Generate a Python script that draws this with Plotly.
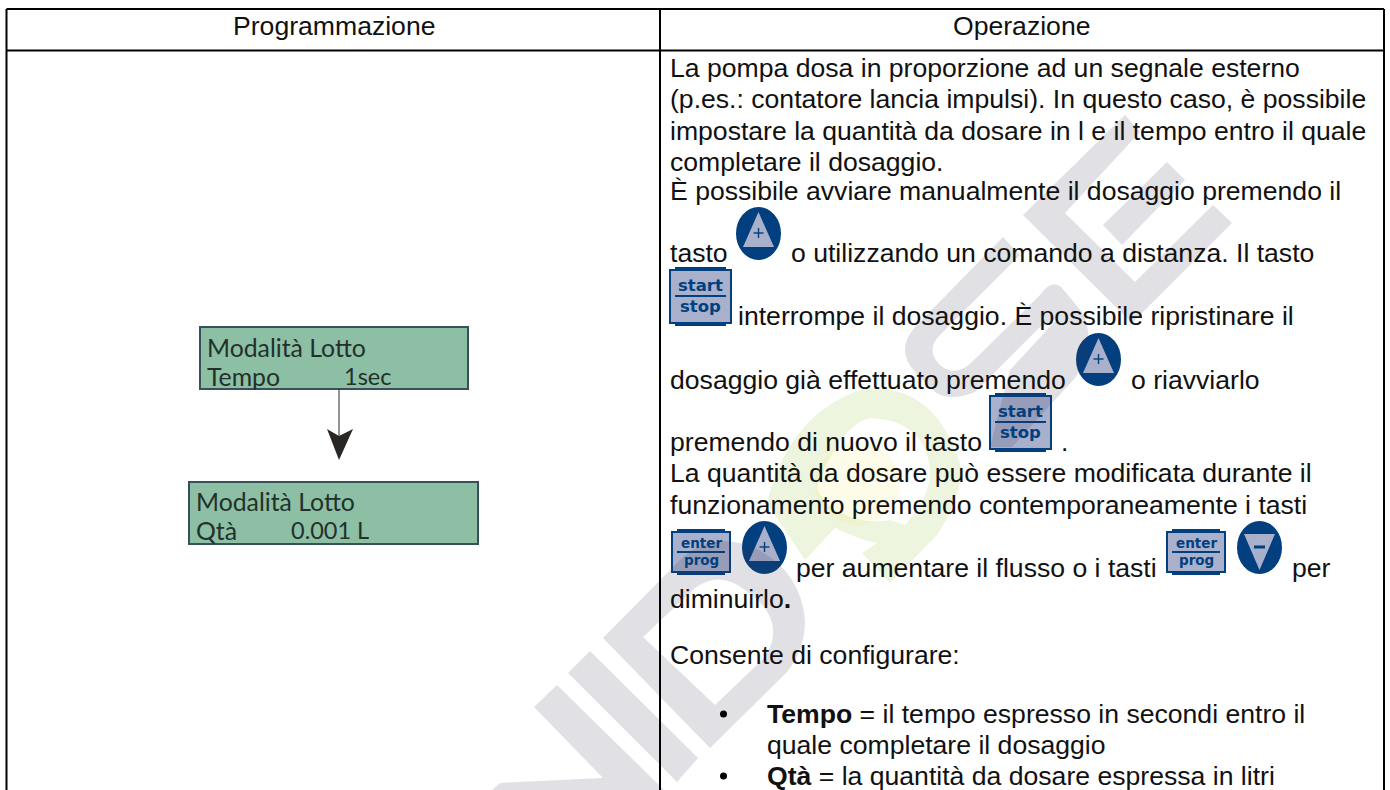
import plotly.graph_objects as go

# ---- document content ----
HEADERS = ["Programmazione", "Operazione"]
LCD_TITLE = "Modalità Lotto"
LCD_ONE = ["Tempo", "1sec"]
LCD_TWO = ["Qtà", "0.001 L"]
BODY_LINES = [
    "La pompa dosa in proporzione ad un segnale esterno",
    "(p.es.: contatore lancia impulsi). In questo caso, è possibile",
    "impostare la quantità da dosare in l e il tempo entro il quale",
    "completare il dosaggio.",
    "È possibile avviare manualmente il dosaggio premendo il",
    "tasto",
    "o utilizzando un comando a distanza. Il tasto",
    "interrompe il dosaggio. È possibile ripristinare il",
    "dosaggio già effettuato premendo",
    "o riavviarlo",
    "premendo di nuovo il tasto",
    ".",
    "La quantità da dosare può essere modificata durante il",
    "funzionamento premendo contemporaneamente i tasti",
    "per aumentare il flusso o i tasti",
    "per",
    "diminuirlo<b>.</b>",
    "Consente di configurare:",
    "<b>Tempo</b> = il tempo espresso in secondi entro il",
    "quale completare il dosaggio",
    "<b>Qtà</b> = la quantità da dosare espressa in litri",
]
KEY_WORDS = [("start", "stop"), ("enter", "prog")]

# ---- layout of the page, in page pixels ----
BODY_X = [669, 669, 669, 669, 669, 669, 790, 737, 669, 1130, 669, 1060,
          669, 669, 795, 1291, 669, 669, 766, 766, 766]
BODY_Y = [68, 99, 131, 162, 191, 253, 253, 316, 380, 380, 442, 442,
          473, 505, 568, 568, 599, 655, 714, 745, 776]
BODY_PX = 26.6
INK = "#111111"
NAVY = "#023f7e"
PALE = "#a9b0cb"
LCD_FILL = "#8cbfa3"
LCD_EDGE = "#36505c"
LCD_INK = "#23302c"
GRID_L, GRID_R, GRID_T, GRID_H, GRID_M = 6.5, 1384, 9, 50.5, 660

shapes = []
ann = []


def rect(x0, y0, x1, y1, fill="rgba(0,0,0,0)", line=None, lw=0):
    shapes.append(dict(type="rect", x0=x0, y0=y0, x1=x1, y1=y1, fillcolor=fill,
                       line=dict(color=line or "rgba(0,0,0,0)", width=lw)))


def path(d, fill):
    shapes.append(dict(type="path", path=d, fillcolor=fill, line=dict(width=0)))


def text(x, y, s, px, color=INK, family="Liberation Sans", anchor="left"):
    ann.append(dict(x=x, y=y, text=s, showarrow=False, xanchor=anchor, yanchor="middle",
                    align="left", borderpad=0,
                    font=dict(family=family, size=px, color=color)))


def round_key(x0, y0, up=True):
    shapes.append(dict(type="circle", x0=x0, y0=y0, x1=x0 + 45, y1=y0 + 53,
                       fillcolor=NAVY, line=dict(width=0)))
    cx = x0 + 22.5
    if up:
        path(f"M{cx},{y0+5} L{x0+7},{y0+40} L{x0+38},{y0+40} Z", PALE)
        shapes.append(dict(type="line", x0=cx - 5, x1=cx + 5, y0=y0 + 26, y1=y0 + 26,
                           line=dict(color=NAVY, width=1.4)))
        shapes.append(dict(type="line", x0=cx, x1=cx, y0=y0 + 21, y1=y0 + 31,
                           line=dict(color=NAVY, width=1.4)))
    else:
        path(f"M{x0+7},{y0+13} L{x0+38},{y0+13} L{cx},{y0+49} Z", PALE)
        shapes.append(dict(type="line", x0=cx - 5.5, x1=cx + 5.5, y0=y0 + 26, y1=y0 + 26,
                           line=dict(color=NAVY, width=3)))


def square_key(x0, y0, words, w, h, tab, rule_y, y_top, y_bot, px):
    rect(x0 + 6, y0, x0 + w - 6, y0 + h, NAVY)
    rect(x0 + 1, y0 + tab, x0 + w - 1, y0 + h - tab, PALE, NAVY, 2)
    rect(x0 + 6, y0 + rule_y - 1, x0 + w - 6, y0 + rule_y + 1, NAVY)
    text(x0 + w / 2, y0 + y_top, f"<b>{words[0]}</b>", px, NAVY, "DejaVu Sans", "center")
    text(x0 + w / 2, y0 + y_bot, f"<b>{words[1]}</b>", px, NAVY, "DejaVu Sans", "center")


# page frame
rect(0, 0, 1390, 790, "white")

# keys
round_key(736, 207)
round_key(1076, 333)
round_key(742, 521)
round_key(1237, 521, up=False)
square_key(669, 267, KEY_WORDS[0], 63, 59, 3, 29, 18, 39, 16.5)
square_key(989, 393, KEY_WORDS[0], 63, 59, 3, 29, 18, 39, 16.5)
square_key(671, 529, KEY_WORDS[1], 60, 46, 3, 23, 14, 31, 13.5)
square_key(1166, 529, KEY_WORDS[1], 60, 46, 3, 23, 14, 31, 13.5)

# watermark, translucent above the keys
GREY = "rgba(60,65,95,0.16)"
path("M1023,215 L1125,115 L1140,132 L1065,213 L1135,282 L1213,205 L1232,223 L1132,323 Z", GREY)
path("M1103,225 L1167,162 L1185,180 L1122,245 Z", GREY)
path("M1003,237 L915,327 Q895,350 915,372 L935,392 Q950,402 975,392 L1040,327 L1058,318 "
     "L1010,370 L990,447 L1012,447 L1075,378 Q1098,345 1082,312 L1062,288 Q1052,278 1040,295 "
     "L972,362 Q955,378 940,365 Q925,350 940,335 L1020,255 Z", GREY)
path("M603,638 L680,560 Q712,530 755,548 Q800,570 805,620 Q805,650 787,672 L710,748 Z "
     "M643,637 L695,588 Q720,570 745,590 Q775,610 773,635 Q772,650 760,662 L715,705 Z", GREY)
path("M568,673 L590,651 L698,758 L677,782 Z", GREY)
path("M534,707 L557,685 L664,790 L492,790 L500,783 L603,778 Z", GREY)
GREEN = "rgba(170,205,90,0.20)"
path("M767,503 Q790,410 867,388 Q935,385 960,463 Q965,492 937,535 L890,583 L862,553 L877,543 "
     "Q860,540 835,528 L805,560 Z "
     "M817,487 Q840,425 870,418 Q925,420 930,470 Q932,495 905,525 L890,520 Q862,525 840,512 Q822,505 817,487 Z",
     GREEN)
shapes.append(dict(type="circle", x0=815, y0=442, x1=900, y1=525,
                   fillcolor="rgba(245,240,120,0.17)", line=dict(width=0)))

# table grid
EDGE = dict(color="#000000", width=2)
for x0, y0, x1, y1 in [(GRID_L, GRID_T, GRID_R, GRID_T), (GRID_L, GRID_H, GRID_R, GRID_H),
                       (GRID_L, GRID_T, GRID_L, 790), (GRID_R, GRID_T, GRID_R, 790),
                       (GRID_M, GRID_T, GRID_M, 790)]:
    shapes.append(dict(type="line", x0=x0, y0=y0, x1=x1, y1=y1, line=EDGE))

# LCD panels and arrow
rect(200, 327, 468, 389, LCD_FILL, LCD_EDGE, 2)
rect(189, 482, 478, 544, LCD_FILL, LCD_EDGE, 2)
shapes.append(dict(type="line", x0=339, x1=339, y0=389, y1=438, line=dict(color="#2a2a2a", width=1)))
path("M327,429 L339,436 L353,429 L339,460 Z", "#2a2624")

# text
text(334, 26, HEADERS[0], BODY_PX, anchor="center")
text(1022, 26, HEADERS[1], BODY_PX, anchor="center")
for s, x, y in zip(BODY_LINES, BODY_X, BODY_Y):
    text(x, y, s, BODY_PX)
for y in (714, 776):
    shapes.append(dict(type="circle", x0=720, x1=727, y0=y - 3.5, y1=y + 3.5,
                       fillcolor="#000", line=dict(width=0)))

LCD_FONT = "Lato"
LCD_PX = 24.8
LCD_NUM_PX = 23.5
text(206, 347, LCD_TITLE, LCD_PX, LCD_INK, LCD_FONT)
text(206, 376, LCD_ONE[0], LCD_PX, LCD_INK, LCD_FONT)
text(343, 376, LCD_ONE[1], LCD_NUM_PX, LCD_INK, LCD_FONT)
text(195, 501, LCD_TITLE, LCD_PX, LCD_INK, LCD_FONT)
text(195, 530, LCD_TWO[0], LCD_PX, LCD_INK, LCD_FONT)
text(290, 530, LCD_TWO[1], LCD_NUM_PX, LCD_INK, LCD_FONT)

fig = go.Figure()
fig.update_layout(
    width=1390, height=790, margin=dict(l=0, r=0, t=0, b=0),
    paper_bgcolor="white", plot_bgcolor="white", showlegend=False,
    xaxis=dict(range=[0, 1390], visible=False, fixedrange=True),
    yaxis=dict(range=[790, 0], visible=False, fixedrange=True),
    shapes=shapes, annotations=ann,
)
fig.write_html("out.html", config=dict(displayModeBar=False),
               post_script="document.body.style.margin='0';document.documentElement.style.overflow='hidden';")
